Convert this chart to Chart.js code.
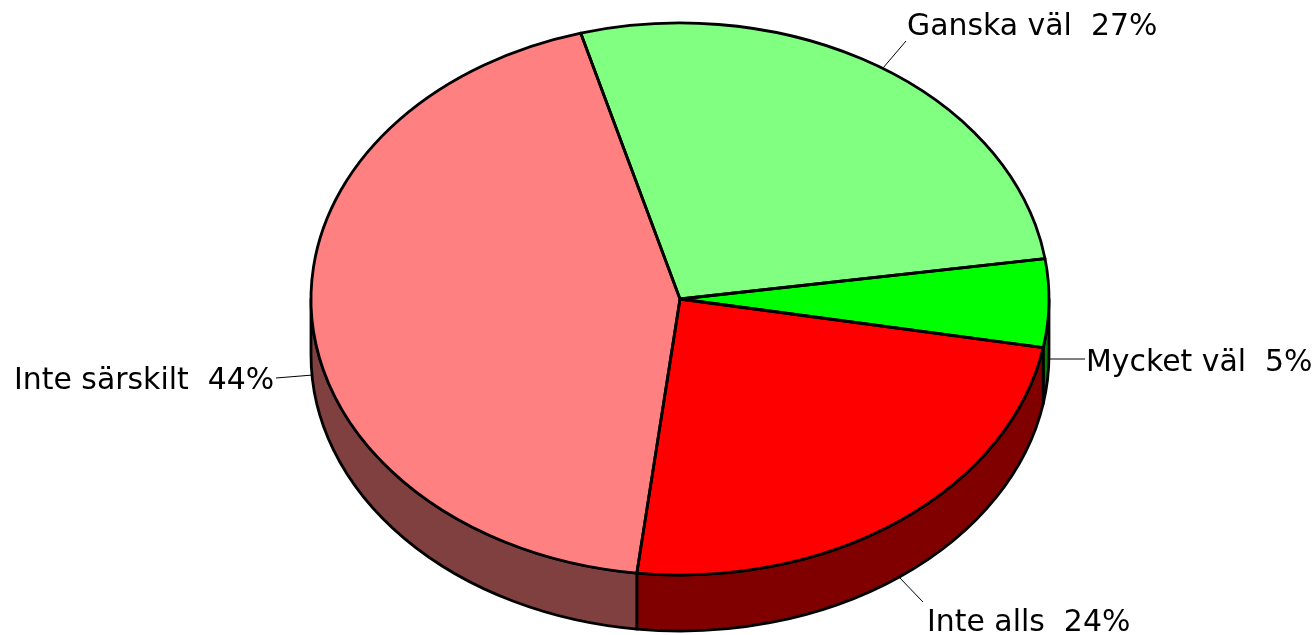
<!DOCTYPE html>
<html>
<head>
<meta charset="utf-8">
<style>
  html, body { margin: 0; padding: 0; background: #fff; }
  canvas { display: block; }
</style>
<script src="https://cdn.jsdelivr.net/npm/chart.js@4/dist/chart.umd.min.js"></script>
</head>
<body>
<canvas id="myChart" width="1315" height="635"></canvas>
<script>
const categories = ['Ganska väl', 'Mycket väl', 'Inte alls', 'Inte särskilt'];
const shares = [27, 5.15, 24.05, 43.8];
const topColors = ['#80ff80', '#00ff00', '#ff0000', '#ff8080'];
const sideColors = ['#408040', '#008000', '#800000', '#804040'];

// where the labels and their leader lines go
const labelAnchors = [[907, 35], [1086, 371], [927, 631], [14, 389]];
const leaderLines = [
    [883, 68, 906, 41],
    [1049, 359, 1085, 359],
    [898, 576, 923, 602],
    [313, 375, 276, 378],
];

const RX = 369;
const RY = 276;
const DEPTH = 56;

function ellipsePath(ctx, arc, yOff, from, to, ccw) {
    ctx.ellipse(arc.x, arc.y + yOff, RX, RY, 0, from, to, ccw);
}

function norm(angle) {
    const full = 2 * Math.PI;
    return ((angle % full) + full) % full;
}

const pie3d = {
    id: 'pie3d',
    // side wall goes under the top face
    beforeDatasetsDraw(chart) {
        const ctx = chart.ctx;
        const arcs = chart.getDatasetMeta(0).data;
        ctx.save();
        ctx.lineWidth = 2.8;
        ctx.strokeStyle = '#000';
        ctx.lineJoin = 'round';
        arcs.forEach((arc, i) => {
            const a = norm(arc.startAngle);
            const b = a + (arc.endAngle - arc.startAngle);
            // only the front half of the pie has a visible wall
            [[a, b], [a - 2 * Math.PI, b - 2 * Math.PI]].forEach(([s, e]) => {
                const from = Math.max(s, 0);
                const to = Math.min(e, Math.PI);
                if (to <= from) return;
                ctx.beginPath();
                ellipsePath(ctx, arc, 0, from, to, false);
                ellipsePath(ctx, arc, DEPTH, to, from, true);
                ctx.closePath();
                ctx.fillStyle = sideColors[i];
                ctx.fill();
                ctx.stroke();
            });
        });
        ctx.restore();

        // stretch the library's round pie into the ellipse
        const first = arcs[0];
        ctx.save();
        ctx.translate(first.x, first.y);
        ctx.scale(RX / first.outerRadius, RY / first.outerRadius);
        ctx.translate(-first.x, -first.y);
    },
    afterDatasetsDraw(chart) {
        const ctx = chart.ctx;
        ctx.restore();
        const arcs = chart.getDatasetMeta(0).data;

        ctx.save();
        ctx.lineWidth = 2.8;
        ctx.strokeStyle = '#000';
        ctx.lineJoin = 'round';
        arcs.forEach(arc => {
            ctx.beginPath();
            ctx.moveTo(arc.x, arc.y);
            ellipsePath(ctx, arc, 0, arc.startAngle, arc.endAngle, false);
            ctx.closePath();
            ctx.stroke();
        });

        ctx.lineWidth = 1;
        leaderLines.forEach(l => {
            ctx.beginPath();
            ctx.moveTo(l[0], l[1]);
            ctx.lineTo(l[2], l[3]);
            ctx.stroke();
        });

        ctx.fillStyle = '#000';
        ctx.font = '29.9px "DejaVu Sans"';
        ctx.textBaseline = 'alphabetic';
        categories.forEach((name, i) => {
            ctx.fillText(name + '  ' + Math.round(shares[i]) + '%', labelAnchors[i][0], labelAnchors[i][1]);
        });
        ctx.restore();
    },
};

const ctx = document.getElementById('myChart').getContext('2d');

new Chart(ctx, {
    type: 'pie',
    data: {
        labels: categories,
        datasets: [
            {
                data: shares,
                backgroundColor: topColors,
                borderWidth: 0,
            },
        ],
    },
    options: {
        responsive: false,
        animation: false,
        rotation: -15.6,
        layout: { padding: { left: 45, bottom: 37 } },
        plugins: {
            legend: { display: false },
            tooltip: { enabled: false },
        },
    },
    plugins: [pie3d],
});
</script>
</body>
</html>
